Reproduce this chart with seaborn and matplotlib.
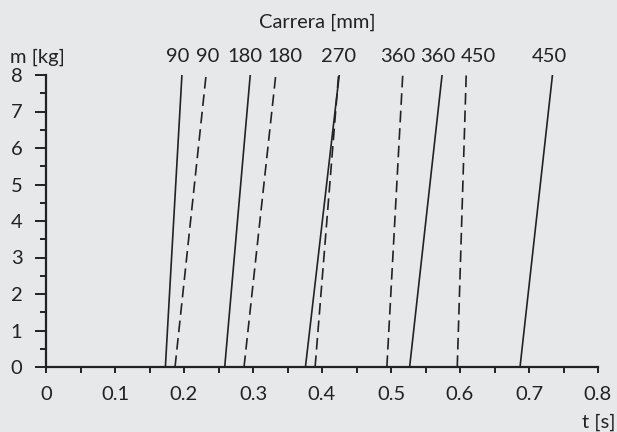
import matplotlib
matplotlib.use("Agg")
import matplotlib.pyplot as plt
from matplotlib.ticker import MultipleLocator
import numpy as np
import pandas as pd
import seaborn as sns

# Stroke (carrera) of each curve and its line style
carrera = [90, 90, 180, 180, 270, 270, 360, 360, 450, 450]
estilo = ["continua", "discontinua", "continua", "discontinua", "continua",
          "discontinua", "discontinua", "continua", "discontinua", "continua"]
# Time at m = 0 kg and at m = 8 kg for each curve [s]
t_inicio = [0.173, 0.187, 0.259, 0.287, 0.376, 0.390, 0.494, 0.527, 0.596, 0.687]
t_final = [0.197, 0.232, 0.296, 0.333, 0.425, 0.424, 0.517, 0.574, 0.609, 0.734]
masa = [0, 8]
# Which curves carry a stroke label on top
etiquetada = [True, True, True, True, True, False, True, True, True, True]

x_ticks = [0, 0.1, 0.2, 0.3, 0.4, 0.5, 0.6, 0.7, 0.8]
x_ticklabels = ["0", "0.1", "0.2", "0.3", "0.4", "0.5", "0.6", "0.7", "0.8"]
y_ticks = [0, 1, 2, 3, 4, 5, 6, 7, 8]

filas = []
for i, (c, e, t0, t1) in enumerate(zip(carrera, estilo, t_inicio, t_final)):
    filas.append({"id": i, "carrera": c, "estilo": e, "t": t0, "m": masa[0]})
    filas.append({"id": i, "carrera": c, "estilo": e, "t": t1, "m": masa[1]})
df = pd.DataFrame(filas)

bg = "#e7e8ea"
ink = "#222222"
fs = 14.5

sns.set_theme(style="ticks")
plt.rcParams["font.family"] = ["Lato", "DejaVu Sans"]
plt.rcParams["text.color"] = ink

fig = plt.figure(figsize=(6.17, 4.32), dpi=100, facecolor=bg)
ax = fig.add_axes([46 / 617, 1 - 367 / 432, (598 - 46) / 617, (367 - 75) / 432])
ax.set_facecolor(bg)

sns.lineplot(data=df, x="t", y="m", units="id", estimator=None,
             style="estilo", dashes={"continua": "", "discontinua": (7, 3.5)},
             color=ink, linewidth=1.2, legend=False, ax=ax)

ax.set_xlim(0, 0.8)
ax.set_ylim(0, 8)
ax.set_xticks(x_ticks)
ax.set_xticklabels(x_ticklabels)
ax.xaxis.set_minor_locator(MultipleLocator(0.05))
ax.set_yticks(y_ticks)
ax.yaxis.set_minor_locator(MultipleLocator(0.5))
ax.set_xlabel("")
ax.set_ylabel("")

for s in ["top", "right"]:
    ax.spines[s].set_visible(False)
for s in ["left", "bottom"]:
    ax.spines[s].set_linewidth(1.6)
    ax.spines[s].set_color(ink)

ax.tick_params(axis="x", which="both", direction="out", length=4.5, width=1.4,
               colors=ink, labelsize=fs, pad=9)
ax.tick_params(axis="y", which="major", direction="out", length=8, width=1.4,
               colors=ink, labelsize=fs, pad=9)
ax.tick_params(axis="y", which="minor", direction="out", length=4.5, width=1.4,
               colors=ink)

# Stroke labels above the upper end of each curve (small nudges avoid overlap)
nudge_px = [-4, 2, -5, 9, -1, 0, -5, -4, 12, -3]
for c, t1, lab, dx in zip(carrera, t_final, etiquetada, nudge_px):
    if lab:
        ax.annotate(str(c), xy=(t1, masa[1]), xytext=(dx * 0.72, 13.5),
                    textcoords="offset points", ha="center", va="center",
                    fontsize=fs, color=ink, annotation_clip=False)

fig.text(317 / 617, 1 - 22 / 432, "Carrera [mm]", ha="center", va="center",
         fontsize=fs, color=ink)
fig.text(10 / 617, 1 - 57 / 432, "m [kg]", ha="left", va="center",
         fontsize=fs, color=ink)
fig.text(615 / 617, 1 - 422 / 432, "t [s]", ha="right", va="center",
         fontsize=fs, color=ink)

fig.savefig("out.png", dpi=100, facecolor=bg)
